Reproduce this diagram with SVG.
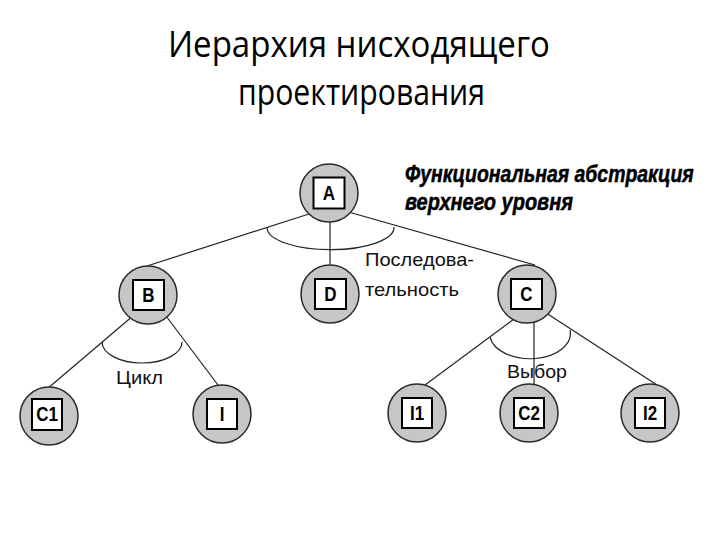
<svg xmlns="http://www.w3.org/2000/svg" width="720" height="540" viewBox="0 0 720 540">
<style>
.title{font-family:"Open Sans","Liberation Sans",sans-serif;font-size:37px;fill:#000}
.head{font-family:"Liberation Sans",Arial,sans-serif;font-size:24px;font-weight:bold;font-style:italic;fill:#000;stroke:#000;stroke-width:0.5}
.lbl{font-family:"Liberation Sans",Arial,sans-serif;font-size:19px;fill:#111}
.circ{fill:#c6c6c6;stroke:#2a2a2a;stroke-width:1.5}
.box{fill:#fff;stroke:#000;stroke-width:2}
.nt{font-family:"Liberation Sans",Arial,sans-serif;font-size:20px;font-weight:bold;fill:#000;text-anchor:middle}
.edge{stroke:#222;stroke-width:1.2;fill:none}
</style>
<rect width="720" height="540" fill="#fff"/>
<text class="title" x="168" y="57" textLength="382" lengthAdjust="spacingAndGlyphs">Иерархия нисходящего</text>
<text class="title" x="238" y="105" textLength="247" lengthAdjust="spacingAndGlyphs">проектирования</text>
<text class="head" transform="translate(405,182) scale(0.8,1)" textLength="361" lengthAdjust="spacingAndGlyphs">Функциональная абстракция</text>
<text class="head" transform="translate(405,210) scale(0.8,1)" textLength="210" lengthAdjust="spacingAndGlyphs">верхнего уровня</text>
<g id="connectors">
<line class="edge" x1="312" y1="213" x2="147" y2="266"/>
<line class="edge" x1="330" y1="222" x2="330" y2="265"/>
<line class="edge" x1="345" y1="211" x2="535" y2="265"/>
<path class="edge" d="M267,228 A63,22 0 0 0 394,227"/>
<line class="edge" x1="134" y1="315" x2="47" y2="389"/>
<line class="edge" x1="160" y1="308" x2="218" y2="385"/>
<path class="edge" d="M102,342 A40,21 0 0 0 182,342"/>
<line class="edge" x1="518" y1="316" x2="425" y2="385"/>
<line class="edge" x1="534" y1="320" x2="534" y2="385"/>
<line class="edge" x1="540" y1="309" x2="657" y2="385"/>
<path class="edge" d="M490,337 A40,25 0 0 0 570,330"/>
</g>
<text class="lbl" x="365" y="266" textLength="109" lengthAdjust="spacingAndGlyphs">Последова-</text>
<text class="lbl" x="365" y="296" textLength="94" lengthAdjust="spacingAndGlyphs">тельность</text>
<text class="lbl" x="116" y="384" textLength="47" lengthAdjust="spacingAndGlyphs">Цикл</text>
<text class="lbl" x="507" y="378" textLength="60" lengthAdjust="spacingAndGlyphs">Выбор</text>
<g id="node-A"><circle class="circ" cx="329" cy="193" r="29"/><rect class="box" x="313.5" y="177.5" width="31" height="31"/><text class="nt" transform="translate(329,200) scale(0.85,1)">A</text></g>
<g id="node-B"><circle class="circ" cx="148" cy="295" r="29"/><rect class="box" x="133" y="280" width="31" height="30"/><text class="nt" transform="translate(148.5,302) scale(0.85,1)">B</text></g>
<g id="node-D"><circle class="circ" cx="330" cy="294" r="29"/><rect class="box" x="315" y="279" width="31" height="30"/><text class="nt" transform="translate(330.5,301) scale(0.85,1)">D</text></g>
<g id="node-C"><circle class="circ" cx="527" cy="294" r="29"/><rect class="box" x="511" y="279" width="31" height="30"/><text class="nt" transform="translate(526.5,301) scale(0.85,1)">C</text></g>
<g id="node-C1"><circle class="circ" cx="49" cy="416" r="29"/><rect class="box" x="32" y="399" width="30" height="31"/><text class="nt" transform="translate(47,421) scale(0.85,1)">C1</text></g>
<g id="node-I"><circle class="circ" cx="222" cy="414" r="29"/><rect class="box" x="207" y="399" width="30" height="30"/><text class="nt" transform="translate(222,421) scale(0.85,1)">I</text></g>
<g id="node-I1"><circle class="circ" cx="417" cy="413" r="29"/><rect class="box" x="402" y="398" width="30" height="30"/><text class="nt" transform="translate(417,420) scale(0.85,1)">I1</text></g>
<g id="node-C2"><circle class="circ" cx="529" cy="413" r="29"/><rect class="box" x="514" y="398" width="30" height="30"/><text class="nt" transform="translate(529,420) scale(0.85,1)">C2</text></g>
<g id="node-I2"><circle class="circ" cx="650" cy="413" r="29"/><rect class="box" x="635" y="398" width="30" height="30"/><text class="nt" transform="translate(650,420) scale(0.85,1)">I2</text></g>
</svg>
